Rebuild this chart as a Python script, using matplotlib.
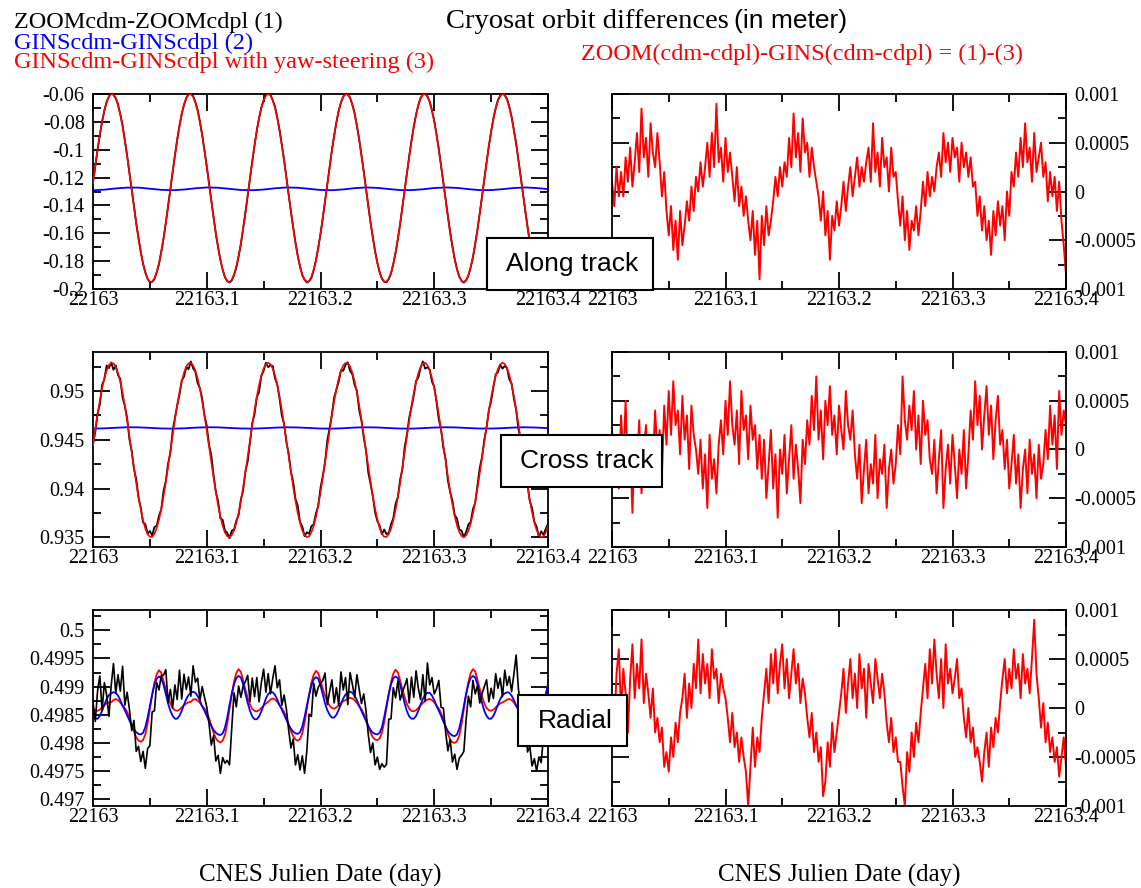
import numpy as np
import matplotlib
matplotlib.use("Agg")
import matplotlib.pyplot as plt
from matplotlib.patches import Rectangle
from matplotlib.ticker import FixedLocator, MultipleLocator, FuncFormatter

plt.rcParams['font.family'] = 'serif'
plt.rcParams['font.serif'] = ['Liberation Serif', 'DejaVu Serif']
plt.rcParams['font.size'] = 14
plt.rcParams['axes.unicode_minus'] = False

W, H = 1141, 888
DAY0 = 22163.0

# epochs: every 0.002 day for the orbit series, every 0.01 day for the flat GINS ones
t = DAY0 + 0.002 * np.arange(201)
t_coarse = DAY0 + 0.01 * np.arange(41)

# along track, GINS with yaw-steering (mm)
along_yaw_mm = [
    -124.0, -111.8, -100.1, -89.3, -79.9, -71.9, -65.9, -61.9, -60.1, -60.5,
    -63.2, -68.0, -74.8, -83.4, -93.5, -104.6, -116.6, -128.9, -141.1, -152.9,
    -163.9, -173.6, -181.8, -188.2, -192.6, -194.7, -194.7, -192.4, -187.9, -181.5,
    -173.2, -163.4, -152.4, -140.6, -128.3, -116.0, -104.1, -93.0, -83.0, -74.5,
    -67.8, -63.0, -60.5, -60.1, -62.0, -66.1, -72.3, -80.2, -89.8, -100.6,
    -112.3, -124.5, -136.8, -148.8, -160.2, -170.4, -179.1, -186.2, -191.3, -194.3,
    -195.0, -193.4, -189.7, -184.0, -176.3, -167.0, -156.4, -144.8, -132.6, -120.3,
    -108.2, -96.8, -86.3, -77.3, -69.9, -64.5, -61.1, -60.0, -61.1, -64.5,
    -69.9, -77.2, -86.3, -96.7, -108.1, -120.2, -132.6, -144.7, -156.3, -166.9,
    -176.2, -183.9, -189.7, -193.4, -194.9, -194.3, -191.3, -186.2, -179.2, -170.4,
    -160.2, -149.0, -137.0, -124.6, -112.4, -100.7, -89.9, -80.3, -72.3, -66.1,
    -62.1, -60.1, -60.5, -63.0, -67.8, -74.4, -82.9, -92.9, -104.0, -115.9,
    -128.2, -140.5, -152.3, -163.3, -173.1, -181.4, -187.9, -192.4, -194.7, -194.7,
    -192.6, -188.3, -181.8, -173.7, -164.0, -153.0, -141.2, -129.0, -116.6, -104.8,
    -93.5, -83.5, -74.9, -68.1, -63.2, -60.5, -60.1, -61.9, -65.9, -71.9,
    -79.8, -89.2, -100.0, -111.7, -123.9, -136.2, -148.2, -159.6, -169.8, -178.7,
    -185.8, -191.0, -194.1, -195.0, -193.6, -190.0, -184.3, -176.8, -167.5, -157.0,
    -145.5, -133.3, -121.0, -108.9, -97.3, -86.9, -77.8, -70.3, -64.7, -61.3,
    -60.0, -61.0, -64.2, -69.5, -76.8, -85.8, -96.1, -107.5, -119.5, -131.9,
    -144.0, -155.6, -166.4, -175.8, -183.5, -189.5, -193.3, -194.9, -194.3, -191.5,
    -186.6]

# along track, GINS without yaw-steering (m)
along_gins = [
    -0.1291, -0.1287, -0.1278, -0.1272, -0.1272, -0.1280, -0.1288, -0.1291, -0.1286, -0.1277,
    -0.1271, -0.1273, -0.1281, -0.1289, -0.1291, -0.1286, -0.1277, -0.1271, -0.1273, -0.1281,
    -0.1289, -0.1291, -0.1285, -0.1276, -0.1271, -0.1274, -0.1282, -0.1290, -0.1290, -0.1284,
    -0.1275, -0.1271, -0.1274, -0.1283, -0.1290, -0.1290, -0.1283, -0.1275, -0.1271, -0.1275,
    -0.1283]

# cross track, GINS with yaw-steering (mm)
cross_yaw_mm = [
    944.42, 946.04, 947.58, 949.02, 950.26, 951.32, 952.12, 952.65, 952.88, 952.83,
    952.47, 951.83, 950.93, 949.79, 948.46, 946.98, 945.40, 943.77, 942.14, 940.58,
    939.13, 937.84, 936.75, 935.90, 935.32, 935.04, 935.04, 935.35, 935.94, 936.79,
    937.89, 939.19, 940.65, 942.21, 943.84, 945.47, 947.06, 948.52, 949.85, 950.98,
    951.87, 952.50, 952.84, 952.88, 952.63, 952.09, 951.27, 950.22, 948.94, 947.51,
    945.96, 944.34, 942.71, 941.12, 939.62, 938.27, 937.10, 936.17, 935.49, 935.10,
    935.00, 935.21, 935.70, 936.46, 937.48, 938.71, 940.12, 941.66, 943.27, 944.91,
    946.51, 948.02, 949.41, 950.61, 951.58, 952.31, 952.75, 952.90, 952.75, 952.31,
    951.59, 950.62, 949.42, 948.03, 946.52, 944.92, 943.28, 941.67, 940.14, 938.72,
    937.49, 936.47, 935.70, 935.21, 935.01, 935.10, 935.49, 936.16, 937.09, 938.26,
    939.61, 941.10, 942.70, 944.33, 945.95, 947.50, 948.94, 950.21, 951.27, 952.09,
    952.62, 952.88, 952.84, 952.50, 951.87, 950.98, 949.86, 948.54, 947.06, 945.49,
    943.86, 942.23, 940.66, 939.20, 937.90, 936.80, 935.94, 935.35, 935.04, 935.04,
    935.32, 935.89, 936.75, 937.83, 939.12, 940.57, 942.13, 943.75, 945.39, 946.97,
    948.45, 949.79, 950.92, 951.83, 952.47, 952.83, 952.89, 952.65, 952.12, 951.32,
    950.28, 949.02, 947.59, 946.04, 944.43, 942.80, 941.20, 939.70, 938.34, 937.17,
    936.22, 935.53, 935.12, 935.00, 935.19, 935.66, 936.41, 937.42, 938.64, 940.04,
    941.57, 943.18, 944.82, 946.42, 947.95, 949.34, 950.55, 951.54, 952.27, 952.73,
    952.90, 952.77, 952.35, 951.64, 950.67, 949.48, 948.11, 946.60, 945.01, 943.37,
    941.76, 940.22, 938.79, 937.55, 936.52, 935.73, 935.22, 935.01, 935.09, 935.47,
    936.12]

# cross track, GINS without yaw-steering (m)
cross_gins = [
    0.94614, 0.94617, 0.94623, 0.94628, 0.94627, 0.94622, 0.94616, 0.94614, 0.94617, 0.94624,
    0.94628, 0.94627, 0.94621, 0.94616, 0.94614, 0.94618, 0.94624, 0.94628, 0.94626, 0.94621,
    0.94615, 0.94614, 0.94618, 0.94625, 0.94628, 0.94626, 0.94620, 0.94615, 0.94614, 0.94619,
    0.94625, 0.94628, 0.94626, 0.94620, 0.94615, 0.94615, 0.94619, 0.94625, 0.94628, 0.94625,
    0.94619]

# radial, GINS with yaw-steering (m)
radial_yaw = [
    0.49862, 0.49858, 0.49857, 0.49859, 0.49863, 0.49867, 0.49870, 0.49872,
    0.49872, 0.49876, 0.49878, 0.49876, 0.49872, 0.49866, 0.49862, 0.49855, 0.49845, 0.49832,
    0.49820, 0.49810, 0.49804, 0.49802, 0.49805, 0.49815, 0.49835, 0.49860, 0.49885, 0.49907,
    0.49922, 0.49929, 0.49925, 0.49910, 0.49895, 0.49882, 0.49870, 0.49862, 0.49858, 0.49857,
    0.49859, 0.49863, 0.49867, 0.49870, 0.49872,
    0.49873, 0.49877, 0.49878, 0.49875, 0.49871, 0.49865, 0.49861, 0.49854, 0.49844, 0.49831,
    0.49818, 0.49808, 0.49803, 0.49801, 0.49804, 0.49814, 0.49834, 0.49861, 0.49887, 0.49909,
    0.49924, 0.49931, 0.49926, 0.49911, 0.49894, 0.49880, 0.49868, 0.49860, 0.49857, 0.49856,
    0.49858, 0.49862, 0.49866, 0.49870,
    0.49873, 0.49877, 0.49879, 0.49877, 0.49873, 0.49867, 0.49862, 0.49855, 0.49845, 0.49833,
    0.49821, 0.49812, 0.49806, 0.49804, 0.49807, 0.49817, 0.49836, 0.49861, 0.49886, 0.49907,
    0.49921, 0.49928, 0.49924, 0.49910, 0.49896, 0.49884, 0.49873, 0.49866, 0.49862, 0.49861,
    0.49863, 0.49867, 0.49871, 0.49874, 0.49876,
    0.49878, 0.49880, 0.49879, 0.49876, 0.49871, 0.49865, 0.49860, 0.49852, 0.49842, 0.49830,
    0.49818, 0.49810, 0.49806, 0.49805, 0.49808, 0.49818, 0.49837, 0.49862, 0.49887, 0.49908,
    0.49923, 0.49930, 0.49925, 0.49911, 0.49895, 0.49881, 0.49869, 0.49861, 0.49857, 0.49856,
    0.49858, 0.49862, 0.49867, 0.49871,
    0.49874, 0.49877, 0.49878, 0.49876, 0.49872, 0.49866, 0.49861, 0.49853, 0.49842, 0.49829,
    0.49816, 0.49806, 0.49801, 0.49800, 0.49803, 0.49813, 0.49833, 0.49860, 0.49886, 0.49908,
    0.49924, 0.49931, 0.49927, 0.49912, 0.49896, 0.49882, 0.49870, 0.49862, 0.49858, 0.49857,
    0.49859, 0.49863, 0.49867, 0.49870, 0.49872,
    0.49874, 0.49877, 0.49878, 0.49876, 0.49872, 0.49866, 0.49861, 0.49854, 0.49844, 0.49831,
    0.49819, 0.49809, 0.49804, 0.49802, 0.49805, 0.49815, 0.49835, 0.49860, 0.49885, 0.49905]

# radial, GINS without yaw-steering (m)
radial_gins = [
    0.49848, 0.49843, 0.49843, 0.49848, 0.49857, 0.49868, 0.49878, 0.49885,
    0.49888, 0.49890, 0.49889, 0.49884, 0.49876, 0.49866, 0.49858, 0.49849, 0.49840, 0.49831,
    0.49824, 0.49819, 0.49816, 0.49815, 0.49818, 0.49828, 0.49845, 0.49866, 0.49886, 0.49903,
    0.49914, 0.49918, 0.49915, 0.49903, 0.49887, 0.49870, 0.49857, 0.49848, 0.49843, 0.49843,
    0.49848, 0.49857, 0.49868, 0.49878, 0.49885,
    0.49889, 0.49891, 0.49889, 0.49883, 0.49875, 0.49865, 0.49857, 0.49848, 0.49839, 0.49830,
    0.49823, 0.49818, 0.49815, 0.49814, 0.49817, 0.49827, 0.49845, 0.49867, 0.49887, 0.49904,
    0.49915, 0.49919, 0.49916, 0.49904, 0.49888, 0.49871, 0.49857, 0.49847, 0.49842, 0.49842,
    0.49847, 0.49856, 0.49867, 0.49879,
    0.49887, 0.49890, 0.49890, 0.49885, 0.49877, 0.49867, 0.49859, 0.49850, 0.49841, 0.49832,
    0.49825, 0.49820, 0.49817, 0.49816, 0.49819, 0.49829, 0.49846, 0.49866, 0.49885, 0.49902,
    0.49913, 0.49917, 0.49914, 0.49902, 0.49886, 0.49870, 0.49858, 0.49850, 0.49845, 0.49845,
    0.49850, 0.49859, 0.49869, 0.49879, 0.49886,
    0.49889, 0.49891, 0.49889, 0.49884, 0.49876, 0.49866, 0.49857, 0.49848, 0.49839, 0.49830,
    0.49823, 0.49818, 0.49816, 0.49815, 0.49818, 0.49828, 0.49846, 0.49867, 0.49887, 0.49904,
    0.49915, 0.49918, 0.49915, 0.49903, 0.49887, 0.49870, 0.49856, 0.49847, 0.49843, 0.49843,
    0.49848, 0.49857, 0.49868, 0.49878,
    0.49886, 0.49889, 0.49889, 0.49884, 0.49876, 0.49866, 0.49857, 0.49848, 0.49838, 0.49829,
    0.49821, 0.49816, 0.49813, 0.49812, 0.49815, 0.49826, 0.49844, 0.49866, 0.49887, 0.49904,
    0.49915, 0.49919, 0.49916, 0.49904, 0.49888, 0.49871, 0.49857, 0.49848, 0.49843, 0.49843,
    0.49848, 0.49857, 0.49868, 0.49878, 0.49885,
    0.49888, 0.49890, 0.49889, 0.49884, 0.49876, 0.49866, 0.49858, 0.49849, 0.49840, 0.49831,
    0.49824, 0.49819, 0.49816, 0.49815, 0.49818, 0.49828, 0.49845, 0.49866, 0.49886, 0.49903]

# ZOOM(cdm-cdpl) - GINS yaw-steering (cdm-cdpl), units of 1e-5 m
along_diff = [
    10, -15, 25, -5, 20, -5, 35, 10, 45, 5, 30,
    60, 20, 85, 35, 55, 15, 70, 40, 25, 60,
    30, -5, 20, -20, -45, -15, -60, -30, -70, -20, -55, -35,
    -10, -30, 5, -20, 15, 0, 30, 5, 25,
    50, 15, 60, 25, 90, 30, 45, 10, 55, 20, 40,
    15, -10, 25, -15, 5, -25, -5, -30,
    -50, -20, -65, -30, -90, -25, -55, -15, -45, -30,
    -10, 15, -5, 25, 5, 30, 15,
    55, 25, 80, 35, 60, 20, 75, 40, 50, 15, 45, 25, 10,
    -5, -30, 0, -45, -20, -70, -25, -40, -10, -35,
    -15, 10, -20, 5, 25, -5, 15, 35, 5, 25, 10, 30,
    45, 10, 70, 20, 40, 5, 55, 25, 35, 0, 45, 15, 20,
    -10, -35, -5, -50, -20, -60, -30, -40, -15, -45,
    -20, 10, -15, 20, -5, 15, 0, 25,
    40, 15, 60, 30, 50, 20, 55, 35, 45, 10, 50, 25, 40, 15, 35, 5,
    10, -25, -5, -40, -15, -50, -30, -65, -20, -45, -10, -35, -15, -50, 0, -25,
    20, 5, 40, 15, 55, 25, 70, 30, 45, 10, 60, 20, 35, 50, 15,
    30, -10, 20, -5, 15, -20, 10,
    -30, -55, -85]

cross_diff = [
    20, -25, 10, -40, 35, -10, 50, -30, 5, -65, 15, -20, 30, -45, 0, 25, -35, 10, -15, 40, -5, 20, -25,
    45, 5, 60, 15, 70, 25, 40, -5, 55, 10, 35, -20, 45, 15, 0,
    -25, 10, -40, -5, -60, 15, -30, -10, -45, 5,
    30, -5, 50, 15, 70, 25, 5, 40, -15, 60, 20, 35, -10, 45, 10, 25, -20, 15,
    -30, 10, -50, -15, 20, -40, -5, -70, 0, -25, 15, -45, -10, 25, -30, 5, -20, -55, 10, -15,
    30, 5, 55, 20, 75, 10, 40, -10, 50, 25, 65, 15, 35, -5, 45, 20, 0, 60, 25, 10, 40, -5,
    -30, 5, -55, -20, 10, -45, -15, -35, 15, -50, -10, -25, 5, -60, -20, 0, -35, -15,
    25, -5, 75, 30, 10, 45, 20, 60, 0, 35, -15, 50, 15, 30, -10,
    -25, 10, -45, -10, 20, -60, -20, 5, -35, 15, -15, -50, 0, -25, 20, -40, -5,
    40, 10, 70, 25, 55, 0, 35, 65, 15, 45, -10, 30, 55, 5, 20,
    -20, 10, -40, -15, 15, -35, -5, -60, -20, 0, -45, 10, -25, -5, -50, 5, -30, -15,
    20, -10, 45, 5, 35, -20, 60, 15, 40, 25]

radial_diff = [
    10, -20, 35, 60, -5, 40, 15, -25,
    30, 65, 10, 45, 20, 70, 5, 35,
    15, -10, 20, -25, -10, -35, -20, -60, -45, -65, -30, -50, -15, -35, -5,
    10, 35, -10, 25, 0, 45, 20, 70, 15, 55, 25, 45, 10, 60, 30, 40, 5, 35, 20, 10,
    -10, -35, -5, -40, -25, -55, -30, -50, -65, -100, -60, -20, -60, -30, -45, -10,
    15, 40, 5, 55, 25, 60, 15, 45, 65, 20, 50, 10, 35, 60, 25, 45, 5, 30, 15,
    -10, -30, -5, -45, -25, -55, -40, -90, -75, -35, -60, -15, -45, -25, -5,
    15, 40, -5, 25, 50, 10, 35, 0, 55, 20, 40, -10, 45, 25, 5, 50, 30, 10, 35, 15,
    -15, -35, -10, -45, -30, -55, -55, -80, -100, -45, -65, -25, -50, -15, -35, -5,
    20, 45, 10, 60, 25, 70, 35, 10, 50, 0, 65, 25, 40, 15, 30, 50, 10, 20,
    -10, -30, 0, -35, -20, -50, -40, -55, -75, -45, -25, -60, -20, -40, -10, -25,
    5, 30, 50, 15, 40, 20, 60, 30, 45, 10, 55, 25, 40, 15, 50, 90, 35,
    10, -20, 5, -35, -15, -45, -30, -55, -40, -70, -50, -30, -60]

along_yaw = np.array(along_yaw_mm) * 1e-3
cross_yaw = np.array(cross_yaw_mm) * 1e-3
radial_yaw = np.array(radial_yaw)
d_along = np.array(along_diff) * 1e-5
d_cross = np.array(cross_diff) * 1e-5
d_radial = np.array(radial_diff) * 1e-5

# ZOOM solution (1) = GINS yaw-steering (3) + plotted difference
along_zoom = along_yaw + d_along
cross_zoom = cross_yaw + d_cross
radial_zoom = radial_yaw + d_radial

fig = plt.figure(figsize=(W / 100, H / 100), dpi=100)


def px_axes(x0, y0, x1, y1):
    return fig.add_axes([x0 / W, 1 - y1 / H, (x1 - x0) / W, (y1 - y0) / H])


def style(ax, ylim, yticks, yminor, right=False):
    ax.set_xlim(DAY0, DAY0 + 0.4)
    ax.set_ylim(*ylim)
    ax.xaxis.set_major_locator(FixedLocator([DAY0 + k / 10 for k in range(5)]))
    ax.xaxis.set_minor_locator(MultipleLocator(0.05))
    ax.yaxis.set_major_locator(FixedLocator(yticks))
    ax.yaxis.set_minor_locator(MultipleLocator(yminor))
    fmt = FuncFormatter(lambda v, p: '%g' % v)
    ax.xaxis.set_major_formatter(fmt)
    ax.yaxis.set_major_formatter(fmt)
    ax.tick_params(which='both', direction='in', top=True, bottom=True,
                   left=True, right=True, width=1.3, colors='black', labelsize=14.5)
    ax.tick_params(which='major', length=12)
    ax.tick_params(which='minor', length=6)
    ax.tick_params(axis='x', pad=1.5)
    ax.tick_params(axis='y', pad=6, labelleft=not right, labelright=right)
    for s in ax.spines.values():
        s.set_linewidth(1.3)


LX0, LX1 = 93, 548
RX0, RX1 = 612, 1066
rows = [(94, 289), (352, 547), (610, 806)]
diff_ticks = [-0.001, -0.0005, 0.0, 0.0005, 0.001]

# along track
ax = px_axes(LX0, rows[0][0], LX1, rows[0][1])
ax.plot(t, along_zoom, color='black', lw=1.3, zorder=2)
ax.plot(t_coarse, along_gins, color='blue', lw=1.3, zorder=3)
ax.plot(t, along_yaw, color='red', lw=1.2, zorder=4)
style(ax, (-0.2, -0.06), [-0.2, -0.18, -0.16, -0.14, -0.12, -0.1, -0.08, -0.06], 0.01)

ax = px_axes(RX0, rows[0][0], RX1, rows[0][1])
ax.plot(t, d_along, color='red', lw=1.4)
style(ax, (-0.001, 0.001), diff_ticks, 0.00025, right=True)

# cross track
ax = px_axes(LX0, rows[1][0], LX1, rows[1][1])
ax.plot(t, cross_zoom, color='black', lw=1.3, zorder=2)
ax.plot(t_coarse, cross_gins, color='blue', lw=1.3, zorder=3)
ax.plot(t, cross_yaw, color='red', lw=1.2, zorder=4)
style(ax, (0.934, 0.954), [0.935, 0.94, 0.945, 0.95], 0.0025)

ax = px_axes(RX0, rows[1][0], RX1, rows[1][1])
ax.plot(t, d_cross, color='red', lw=1.4)
style(ax, (-0.001, 0.001), diff_ticks, 0.00025, right=True)

# radial
ax = px_axes(LX0, rows[2][0], LX1, rows[2][1])
ax.plot(t, radial_yaw, color='red', lw=1.3, zorder=2)
ax.plot(t, radial_gins, color='blue', lw=1.3, zorder=3)
ax.plot(t, radial_zoom, color='black', lw=1.2, zorder=4)
style(ax, (0.49688, 0.50036), [0.497, 0.4975, 0.498, 0.4985, 0.499, 0.4995, 0.5], 0.00025)

ax = px_axes(RX0, rows[2][0], RX1, rows[2][1])
ax.plot(t, d_radial, color='red', lw=1.4)
style(ax, (-0.001, 0.001), diff_ticks, 0.00025, right=True)


def fx(x):
    return x / W


def fy(y):
    return 1 - y / H


# series captions
fig.text(fx(14), fy(28), 'ZOOMcdm-ZOOMcdpl (1)', fontsize=17.5, color='black')
fig.text(fx(14), fy(49), 'GINScdm-GINScdpl (2)', fontsize=17.5, color='blue')
fig.text(fx(14), fy(68), 'GINScdm-GINScdpl with yaw-steering (3)', fontsize=17.5, color='red')
fig.text(fx(581), fy(60), 'ZOOM(cdm-cdpl)-GINS(cdm-cdpl) = (1)-(3)', fontsize=17.5, color='red')

# title: serif part followed by the sans-serif unit
title = fig.text(fx(446), fy(28), 'Cryosat orbit differences', fontsize=20.5)
fig.canvas.draw()
bb = title.get_window_extent(renderer=fig.canvas.get_renderer())
fig.text((bb.x1 + 5) / W, fy(28), '(in meter)', fontsize=19, family='Liberation Sans')

# x axis labels
for cx in ((LX0 + LX1) / 2, (RX0 + RX1) / 2):
    fig.text(fx(cx), fy(882), 'CNES Julien Date (day)', fontsize=18, ha='center')

# component boxes
boxes = [('Along track', 487, 238, 653, 290, 572),
         ('Cross track', 501, 435, 662, 487, 587),
         ('Radial', 518, 695, 627, 746, 575)]
for label, x0, y0, x1, y1, tx in boxes:
    fig.add_artist(Rectangle((fx(x0), fy(y1)), (x1 - x0) / W, (y1 - y0) / H,
                             transform=fig.transFigure, facecolor='white',
                             edgecolor='black', lw=1.5, zorder=10))
    fig.text(fx(tx), fy((y0 + y1) / 2), label, fontsize=19, family='Liberation Sans',
             ha='center', va='center', zorder=11)

fig.savefig('out.png', dpi=100)
